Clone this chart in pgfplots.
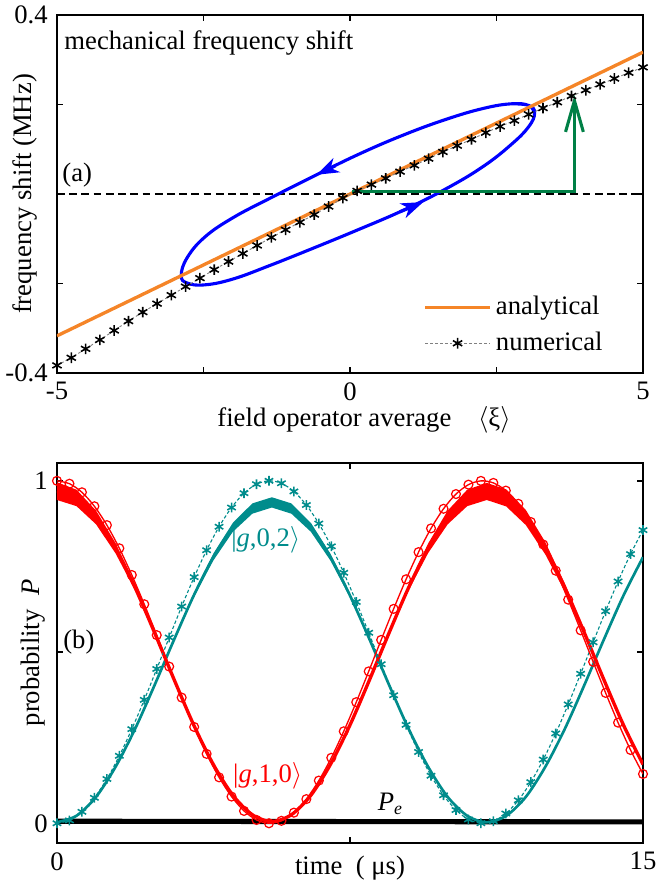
\documentclass[border=0pt]{standalone}
\usepackage{fontspec}
\setmainfont{Liberation Serif}
\usepackage{pgfplots}
\pgfplotsset{compat=1.18}
\usetikzlibrary{arrows.meta}

\definecolor{orng}{RGB}{245,133,40}
\definecolor{tealc}{RGB}{0,140,140}
\definecolor{grn}{RGB}{0,128,70}

\pgfplotsset{
  panel/.style={
    scale only axis, width=263.7pt,
    axis line style={line width=0.8pt},
    tick style={line width=0.7pt, black},
    major tick length=2.5pt,
    tick align=inside,
    /pgf/number format/assume math mode=true,
  }
}

\begin{document}
\fontsize{12}{14.4}\selectfont
\begin{tikzpicture}
\useasboundingbox (-25.65pt,6.75pt) rectangle (274.95pt,-390.15pt);

% ---------------- panel (a)
\begin{axis}[panel, at={(0,0)}, anchor=north west, height=161.1pt,
  xmin=-5, xmax=5, ymin=-0.4, ymax=0.4,
  xtick={-5,-2.5,0,2.5,5}, xticklabels={-5,,0,,5},
  ytick={-0.4,-0.2,0,0.2,0.4}, yticklabels={-0.4,,,,0.4},
  xlabel={field operator average\quad $\langle$ξ$\rangle$},
  xlabel style={at={(axis description cs:0.524,-0.131)}, anchor=center},
  ylabel={frequency shift (MHz)},
  ylabel style={at={(axis description cs:-0.0546,0.5)}, anchor=center},
  legend style={draw=none, fill=none, at={(axis description cs:0.625,0.038)},
    anchor=south west, inner sep=0pt, row sep=2pt},
  legend cell align=left,
  legend image code/.code={\draw[mark repeat=2,mark phase=2,#1] plot coordinates {(0pt,0pt)(14.5pt,0pt)(29pt,0pt)};},
]
\addplot[black, line width=0.5pt, dash pattern=on 3.5pt off 2pt, forget plot]
  coordinates {(-5,0)(5,0)};

% loop
\addplot[blue, line width=1.4pt, smooth, tension=0.7, forget plot] coordinates {
  (3.150,0.181)(3.047,0.198)(2.746,0.2015)(2.267,0.191)(1.643,0.167)(0.915,0.132)
  (0.135,0.088)(-0.645,0.038)(-1.373,-0.010)(-1.997,-0.053)(-2.476,-0.096)
  (-2.777,-0.142)(-2.880,-0.182)(-2.777,-0.199)(-2.476,-0.203)(-1.997,-0.190)
  (-1.373,-0.160)(-0.645,-0.122)(0.135,-0.080)(0.915,-0.036)(1.643,0.012)
  (2.267,0.061)(2.746,0.110)(3.047,0.150)(3.150,0.181)(3.047,0.198)(2.746,0.2015)};
\addplot[blue, line width=1.4pt, -{Stealth[length=10pt,width=7pt,inset=3pt]}, forget plot]
  coordinates {(-0.25,0.063)(-0.57,0.043)};
\addplot[blue, line width=1.4pt, -{Stealth[length=10pt,width=7pt,inset=3pt]}, forget plot]
  coordinates {(0.85,-0.040)(1.25,-0.018)};

\addplot[orng, line width=1.5pt] coordinates {(-5,-0.317)(5,0.317)};
\addlegendentry{analytical}

\addplot[gray, line width=0.4pt, dash pattern=on 1.2pt off 1pt, mark=asterisk, mark size=2.4pt,
  mark options={black, solid, line width=0.7pt}] coordinates {
  (-5.000,-0.383)(-4.756,-0.366)(-4.512,-0.346)(-4.268,-0.326)(-4.024,-0.305)
  (-3.780,-0.284)(-3.537,-0.264)(-3.293,-0.245)(-3.049,-0.226)(-2.805,-0.207)
  (-2.561,-0.188)(-2.317,-0.169)(-2.073,-0.151)(-1.829,-0.133)(-1.585,-0.115)
  (-1.341,-0.097)(-1.098,-0.080)(-0.854,-0.063)(-0.610,-0.046)(-0.366,-0.028)
  (-0.122,-0.009)(0.122,0.007)(0.366,0.021)(0.610,0.035)(0.854,0.050)
  (1.098,0.064)(1.341,0.079)(1.585,0.094)(1.829,0.108)(2.073,0.122)
  (2.317,0.137)(2.561,0.151)(2.805,0.164)(3.049,0.178)(3.293,0.192)
  (3.537,0.205)(3.780,0.219)(4.024,0.232)(4.268,0.245)(4.512,0.258)
  (4.756,0.271)(5.000,0.283)};
\addlegendentry{numerical}

\addplot[grn, line width=1.4pt, line join=miter, -{Straight Barb[length=14pt,width=8pt]}, forget plot]
  coordinates {(0.03,0.006)(3.83,0.006)(3.83,0.221)};

\node[anchor=west, inner sep=0pt] at (axis description cs:0.012,0.922) {mechanical frequency shift};
\node[anchor=west, inner sep=0pt] at (axis description cs:0.0085,0.553) {(a)};
\end{axis}

% ---------------- panel (b)
\begin{axis}[panel, at={(0,-201.6pt)}, anchor=north west, height=171pt,
  xmin=0, xmax=15, ymin=-0.0576, ymax=1.052,
  xtick={0,7.5,15}, xticklabels={0,,15},
  ytick={0,0.5,1}, yticklabels={0,,1},
  xlabel={time\ \ ( μs)},
  xlabel style={at={(axis description cs:0.5,-0.066)}, anchor=center},
  ylabel={probability\ \ \textit{P}},
  ylabel style={at={(axis description cs:-0.041,0.5)}, anchor=center},
]
% P_e
\addplot[black, line width=2.3pt] coordinates {(0,0.006)(15,0.004)};

% |g,0,2> numerical
\addplot[tealc, fill=tealc, draw=none] coordinates {
  (3,0.540)(3.5,0.671)(4,0.787)(4.5,0.877)(5,0.934)(5.5,0.952)(6,0.934)(6.5,0.877)
  (7,0.787)(7.5,0.671)(8,0.540)
  (8,0.534)(7.5,0.659)(7,0.767)(6.5,0.851)(6,0.904)(5.5,0.922)(5,0.904)(4.5,0.851)
  (4,0.767)(3.5,0.659)(3,0.534)};
\addplot[tealc, line width=1.2pt, smooth] coordinates {
  (0,0.003)(0.5,0.022)(1,0.077)(1.5,0.165)(2,0.276)(2.5,0.404)(3,0.537)(3.5,0.665)
  (4,0.777)(4.5,0.864)(5,0.919)(5.5,0.938)(6,0.919)(6.5,0.864)(7,0.777)(7.5,0.665)
  (8,0.537)(8.5,0.404)(9,0.276)(9.5,0.165)(10,0.077)(10.5,0.022)(11,0.003)
  (11.5,0.022)(12,0.077)(12.5,0.165)(13,0.276)(13.5,0.404)(14,0.537)(14.5,0.665)
  (15,0.777)};

% |g,1,0> numerical
\addplot[red, fill=red, draw=none] coordinates {
  (0,0.996)(0.5,0.974)(1,0.913)(1.5,0.818)(2,0.697)(2.5,0.560)
  (2.5,0.552)(2,0.679)(1.5,0.788)(1,0.873)(0.5,0.926)(0,0.944)};
\addplot[red, fill=red, draw=none] coordinates {
  (8.5,0.560)(9,0.696)(9.5,0.817)(10,0.913)(10.5,0.974)(11,0.994)(11.5,0.975)
  (12,0.915)(12.5,0.821)(13,0.700)(13.5,0.562)
  (13.5,0.550)(13,0.676)(12.5,0.785)(12,0.871)(11.5,0.925)(11,0.944)(10.5,0.926)
  (10,0.873)(9.5,0.789)(9,0.680)(8.5,0.552)};
\addplot[red, line width=1.5pt, smooth] coordinates {
  (0,0.970)(0.5,0.950)(1,0.893)(1.5,0.803)(2,0.688)(2.5,0.556)(3,0.419)(3.5,0.287)
  (4,0.172)(4.5,0.082)(5,0.025)(5.5,0.005)(6,0.025)(6.5,0.082)(7,0.172)(7.5,0.287)
  (8,0.419)(8.5,0.556)(9,0.688)(9.5,0.803)(10,0.893)(10.5,0.950)(11,0.970)
  (11.5,0.950)(12,0.893)(12.5,0.803)(13,0.688)(13.5,0.556)(14,0.419)(14.5,0.287)
  (15,0.172)};

% analytical with markers
\addplot[tealc, line width=0.5pt, dash pattern=on 1.5pt off 1pt, smooth, mark=asterisk, mark size=2.2pt,
  mark options={solid, line width=0.7pt}] coordinates {
  (0.000,0.0000)(0.319,0.0084)(0.638,0.0335)(0.957,0.0743)(1.277,0.1294)(1.596,0.1970)
  (1.915,0.2750)(2.234,0.3604)(2.553,0.4506)(2.872,0.5424)(3.191,0.6329)(3.511,0.7188)
  (3.830,0.7974)(4.149,0.8659)(4.468,0.9220)(4.787,0.9639)(5.106,0.9902)(5.426,1.0000)
  (5.745,0.9928)(6.064,0.9690)(6.383,0.9294)(6.702,0.8753)(7.021,0.8088)(7.340,0.7314)
  (7.660,0.6463)(7.979,0.5564)(8.298,0.4645)(8.617,0.3739)(8.936,0.2875)(9.255,0.2082)
  (9.574,0.1389)(9.894,0.0817)(10.213,0.0387)(10.532,0.0112)(10.851,0.0002)(11.170,0.0061)
  (11.489,0.0286)(11.809,0.0671)(12.128,0.1202)(12.447,0.1860)(12.766,0.2624)(13.085,0.3470)
  (13.404,0.4366)(13.723,0.5284)(14.043,0.6193)(14.362,0.7062)(14.681,0.7860)(15.000,0.8561)};
\addplot[red, line width=0.6pt, smooth, mark=o, mark size=2pt,
  mark options={solid, line width=0.55pt}] coordinates {
  (0.000,1.0000)(0.319,0.9916)(0.638,0.9665)(0.957,0.9257)(1.277,0.8706)(1.596,0.8030)
  (1.915,0.7250)(2.234,0.6396)(2.553,0.5494)(2.872,0.4576)(3.191,0.3671)(3.511,0.2812)
  (3.830,0.2026)(4.149,0.1341)(4.468,0.0780)(4.787,0.0361)(5.106,0.0098)(5.426,0.0000)
  (5.745,0.0072)(6.064,0.0310)(6.383,0.0706)(6.702,0.1247)(7.021,0.1912)(7.340,0.2686)
  (7.660,0.3537)(7.979,0.4436)(8.298,0.5355)(8.617,0.6261)(8.936,0.7125)(9.255,0.7918)
  (9.574,0.8611)(9.894,0.9183)(10.213,0.9613)(10.532,0.9888)(10.851,0.9998)(11.170,0.9939)
  (11.489,0.9714)(11.809,0.9329)(12.128,0.8798)(12.447,0.8140)(12.766,0.7376)(13.085,0.6530)
  (13.404,0.5634)(13.723,0.4716)(14.043,0.3807)(14.362,0.2938)(14.681,0.2140)(15.000,0.1439)};

\node[tealc, anchor=west, inner sep=0pt] at (axis cs:4.45,0.827) {|\textit{g},0,2$\rangle$};
\node[red, anchor=west, inner sep=0pt] at (axis cs:4.5,0.14) {|\textit{g},1,0$\rangle$};
\node[anchor=base west, inner sep=0pt] at (axis cs:8.2,0.038) {\textit{P}\textsubscript{\textit{e}}};
\node[anchor=west, inner sep=0pt] at (axis cs:0.15,0.53) {(b)};
\end{axis}
\end{tikzpicture}
\end{document}
